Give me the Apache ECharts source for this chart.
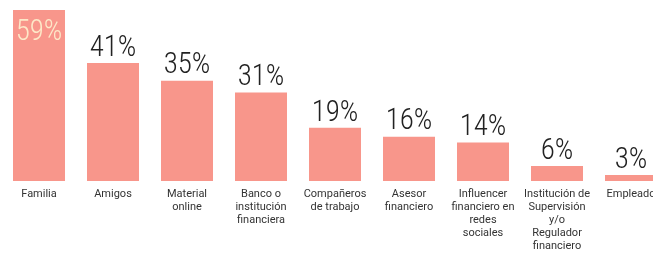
<!DOCTYPE html>
<html lang="es">
<head>
<meta charset="UTF-8">
<title>Fuentes de información financiera</title>
<script src="https://cdn.jsdelivr.net/npm/echarts@6/dist/echarts.min.js"></script>
<style>
  html, body { margin: 0; padding: 0; background: #ffffff; overflow: hidden; }
  /* el gráfico es más ancho que la ventana: la última barra queda cortada */
  #chart { width: 668px; height: 254px; }
</style>
</head>
<body>
<div id="chart"></div>
<script>
// categorías y valores (%)
const categorias = [
  'Familia', 'Amigos', 'Material\nonline', 'Banco o\ninstitución\nfinanciera',
  'Compañeros\nde trabajo', 'Asesor\nfinanciero', 'Influencer\nfinanciero en\nredes\nsociales',
  'Institución de\nSupervisión\ny/o\nRegulador\nfinanciero', 'Empleado'
];
const valores = [59, 41, 35, 31, 19, 16, 14, 6, 3];

const chart = echarts.init(document.getElementById('chart'));

const datos = valores.map(function (v, i) {
  if (i === 0) {
    // la primera etiqueta va dentro de la barra
    return {
      value: v,
      label: { position: 'insideTop', distance: 8, color: '#fde8c8' }
    };
  }
  return v;
});

chart.setOption({
  animation: false,
  grid: { left: 2, right: 0, top: 10, bottom: 73, containLabel: false },
  xAxis: {
    type: 'category',
    data: categorias,
    axisLine: { show: false },
    axisTick: { show: false },
    axisLabel: {
      interval: 0,
      margin: 7,
      color: '#333333',
      fontFamily: 'Roboto',
      fontSize: 11,
      lineHeight: 13
    }
  },
  yAxis: {
    type: 'value',
    min: 0.95,
    max: 59,
    show: false,
    splitLine: { show: false }
  },
  series: [{
    type: 'bar',
    data: datos,
    barWidth: 52,
    itemStyle: { color: '#f8968b' },
    label: {
      show: true,
      position: 'top',
      distance: 0,
      formatter: '{c}%',
      color: '#222222',
      fontFamily: "'Roboto Condensed', 'DejaVu Sans Condensed', sans-serif",
      fontWeight: 300,
      fontSize: 29
    }
  }]
});
</script>
</body>
</html>
